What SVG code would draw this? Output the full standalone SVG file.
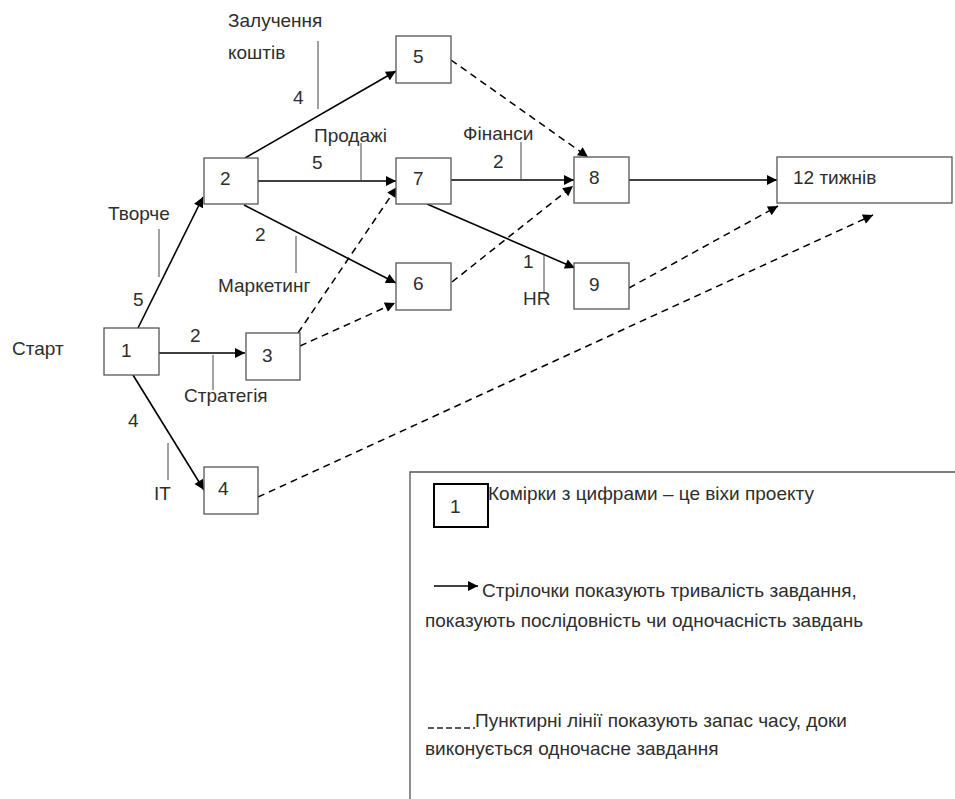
<svg xmlns="http://www.w3.org/2000/svg" width="955" height="799" viewBox="0 0 955 799">
<defs>
<style>
text{font-family:"Liberation Sans",Arial,sans-serif;font-size:19px;fill:#2e2e2e}
.box{fill:#fff;stroke:#555;stroke-width:1.3}
.solid{stroke:#000;stroke-width:1.6;fill:none;marker-end:url(#ah)}
.dash{stroke:#000;stroke-width:1.5;fill:none;stroke-dasharray:7 5;marker-end:url(#ah)}
.tick{stroke:#444;stroke-width:1}
</style>
<marker id="ah" viewBox="0 0 10 10" refX="10" refY="5" markerUnits="userSpaceOnUse" markerWidth="12" markerHeight="10" orient="auto">
<path d="M0,0 L10,5 L0,10 z" fill="#000"/>
</marker>
</defs>
<rect width="955" height="799" fill="#fff"/>
<g id="connectors">
<line class="solid" x1="138" y1="328" x2="203" y2="197"/>
<line class="solid" x1="245" y1="158" x2="396" y2="71"/>
<line class="solid" x1="258" y1="181" x2="396" y2="181"/>
<line class="solid" x1="244" y1="205" x2="396" y2="283"/>
<line class="solid" x1="159" y1="353" x2="245" y2="353"/>
<line class="solid" x1="133" y1="375" x2="204" y2="490"/>
<line class="solid" x1="451" y1="180" x2="574" y2="180"/>
<line class="solid" x1="629" y1="180" x2="777" y2="180"/>
<line class="solid" x1="427" y1="204" x2="575" y2="268"/>
<line class="dash" x1="451" y1="60" x2="588" y2="157"/>
<line class="dash" x1="298" y1="333" x2="397" y2="187"/>
<line class="dash" x1="452" y1="282" x2="573" y2="186"/>
<line class="dash" x1="300" y1="346" x2="395" y2="303"/>
<line class="dash" x1="629" y1="288" x2="778" y2="206"/>
<line class="dash" x1="258" y1="497" x2="873" y2="215"/>
<line class="tick" x1="318" y1="41" x2="318" y2="109"/>
<line class="tick" x1="361" y1="143" x2="361" y2="180"/>
<line class="tick" x1="159" y1="229" x2="159" y2="277"/>
<line class="tick" x1="296" y1="236" x2="296" y2="273"/>
<line class="tick" x1="213" y1="355" x2="213" y2="390"/>
<line class="tick" x1="168" y1="443" x2="168" y2="480"/>
<line class="tick" x1="521" y1="142" x2="521" y2="179"/>
<line class="tick" x1="544" y1="255" x2="544" y2="293"/>
</g>
<g id="labels">
<text x="228" y="27">Залучення</text>
<text x="228" y="59">коштів</text>
<text x="293" y="104">4</text>
<text x="314" y="142">Продажі</text>
<text x="312" y="169">5</text>
<text x="108" y="220">Творче</text>
<text x="133" y="306">5</text>
<text x="255" y="241">2</text>
<text x="218" y="292">Маркетинг</text>
<text x="463" y="140">Фінанси</text>
<text x="493" y="168">2</text>
<text x="523" y="268">1</text>
<text x="523" y="305">HR</text>
<text x="12" y="355">Старт</text>
<text x="190" y="342">2</text>
<text x="184" y="402">Стратегія</text>
<text x="128" y="427">4</text>
<text x="154" y="500">IT</text>
</g>
<g id="n1"><rect class="box" x="104" y="328" width="55" height="47"/><text x="121" y="357">1</text></g>
<g id="n2"><rect class="box" x="204" y="158" width="54" height="46"/><text x="220" y="185">2</text></g>
<g id="n3"><rect class="box" x="246" y="333" width="54" height="47"/><text x="262" y="362">3</text></g>
<g id="n4"><rect class="box" x="204" y="467" width="54" height="47"/><text x="218" y="495">4</text></g>
<g id="n5"><rect class="box" x="396" y="36" width="55" height="47"/><text x="413" y="63">5</text></g>
<g id="n6"><rect class="box" x="396" y="263" width="55" height="47"/><text x="413" y="290">6</text></g>
<g id="n7"><rect class="box" x="396" y="158" width="55" height="46"/><text x="413" y="185">7</text></g>
<g id="n8"><rect class="box" x="574" y="157" width="55" height="46"/><text x="589" y="184">8</text></g>
<g id="n9"><rect class="box" x="574" y="263" width="55" height="46"/><text x="589" y="291">9</text></g>
<g id="end"><rect class="box" x="777" y="157" width="175" height="46"/><text x="793" y="184">12 тижнів</text></g>
<g id="legend">
<path d="M410,799 L410,472 L955,472" fill="none" stroke="#555" stroke-width="1.3"/>
<rect x="434" y="484" width="54" height="43" fill="#fff" stroke="#000" stroke-width="2"/>
<text x="450" y="513">1</text>
<text x="488" y="500">Комірки з цифрами – це віхи проекту</text>
<line x1="434" y1="586" x2="478" y2="586" stroke="#000" stroke-width="1.6" marker-end="url(#ah)"/>
<text x="482" y="597">Стрілочки показують тривалість завдання,</text>
<text x="425" y="627">показують послідовність чи одночасність завдань</text>
<line x1="428" y1="728" x2="475" y2="728" stroke="#222" stroke-width="1.3" stroke-dasharray="6 3"/>
<text x="475" y="727">Пунктирні лінії показують запас часу, доки</text>
<text x="425" y="755">виконується одночасне завдання</text>
</g>
</svg>
